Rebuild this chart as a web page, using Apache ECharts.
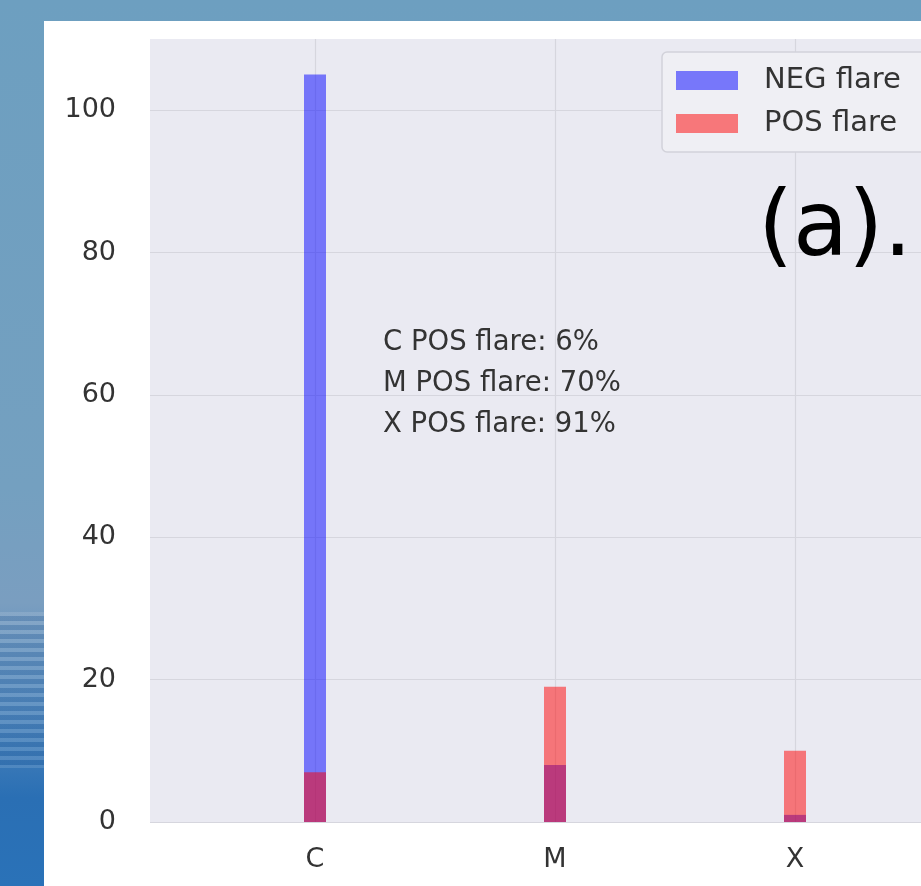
<!DOCTYPE html>
<html>
<head>
<meta charset="utf-8">
<script src="https://cdn.jsdelivr.net/npm/echarts@6/dist/echarts.min.js"></script>
<style>
  html, body { margin: 0; padding: 0; }
  body {
    width: 921px; height: 886px; overflow: hidden; position: relative;
    background: linear-gradient(180deg, #6d9fc0 0%, #74a0c0 55%, #7a9ec0 68%, #4f86bc 80%, #2a6fb4 90%, #2a72b8 100%);
  }
  #streaks {
    position: absolute; left: 0; top: 612px; width: 44px; height: 156px;
    background: repeating-linear-gradient(180deg, rgba(255,255,255,0.12) 0px, rgba(255,255,255,0.12) 4px, rgba(30,80,140,0.18) 4px, rgba(30,80,140,0.18) 9px);
  }
  #panel {
    position: absolute; left: 44px; top: 21px; width: 877px; height: 865px;
    background: #ffffff; overflow: hidden;
  }
  #chart { width: 916px; height: 865px; }
</style>
</head>
<body>
<div id="streaks"></div>
<div id="panel"><div id="chart"></div></div>
<script>
// Flare classes and histogram counts per class
const categories = ['C', 'M', 'X'];
const negFlare = [105, 8, 1];
const posFlare = [7, 19, 10];
const seriesNames = ['NEG flare', 'POS flare'];

// Share of positive flares in each class, rounded to whole percent
const posShareLines = categories.map(function (c, i) {
  const pct = Math.round(100 * posFlare[i] / (posFlare[i] + negFlare[i]));
  return c + ' POS flare: ' + pct + '%';
});

const FONT = 'DejaVu Sans';
const TEXT = '#333333';

const chart = echarts.init(document.getElementById('chart'));
chart.setOption({
  animation: false,
  backgroundColor: '#ffffff',
  textStyle: { fontFamily: FONT },
  grid: {
    left: 106, top: 18, bottom: 64, right: 0,
    show: true, backgroundColor: '#eaeaf2', borderWidth: 0
  },
  legend: {
    orient: 'vertical',
    left: 618, top: 31,
    data: seriesNames,
    itemWidth: 62, itemHeight: 19, itemGap: 14,
    padding: [14, 60, 14, 14],
    backgroundColor: '#efeff4',
    borderColor: '#d2d2da', borderWidth: 1.5, borderRadius: 5,
    icon: 'rect',
    textStyle: { fontFamily: FONT, fontSize: 29, color: TEXT, padding: [0, 0, 0, 21] }
  },
  xAxis: {
    type: 'value',
    min: -0.6875, max: 2.6875,
    minInterval: 1, maxInterval: 1,
    axisLine: { show: false },
    axisTick: { show: false },
    axisLabel: {
      fontFamily: FONT, fontSize: 27, color: TEXT, margin: 24,
      showMinLabel: false, showMaxLabel: false,
      formatter: function (v) {
        return Number.isInteger(v) && categories[v] !== undefined ? categories[v] : '';
      }
    },
    splitLine: { show: true, showMinLine: false, showMaxLine: false, lineStyle: { color: '#d6d6de', width: 1.2 } }
  },
  yAxis: {
    type: 'value',
    min: 0, max: 110, interval: 20,
    axisLine: { show: false },
    axisTick: { show: false },
    axisLabel: { fontFamily: FONT, fontSize: 27, color: TEXT, margin: 34, showMaxLabel: false },
    splitLine: { show: true, showMaxLine: false, lineStyle: { color: '#d6d6de', width: 1.2 } }
  },
  series: [
    {
      name: seriesNames[0], type: 'bar', barWidth: 22, barGap: '-100%',
      itemStyle: { color: 'rgba(0,0,255,0.5)' },
      data: categories.map(function (c, i) { return [i, negFlare[i]]; })
    },
    {
      name: seriesNames[1], type: 'bar', barWidth: 22, barGap: '-100%',
      itemStyle: { color: 'rgba(255,0,0,0.5)' },
      data: categories.map(function (c, i) { return [i, posFlare[i]]; })
    }
  ],
  graphic: [
    {
      type: 'text', left: 339, top: 301, z: 10,
      style: {
        text: posShareLines.join('\n'),
        font: '27.5px "DejaVu Sans"', fill: TEXT, lineHeight: 41
      }
    },
    {
      type: 'text', left: 714, top: 166, z: 10,
      style: { text: '(a).', font: '90px "DejaVu Sans"', fill: '#000000' }
    }
  ]
});
</script>
</body>
</html>
